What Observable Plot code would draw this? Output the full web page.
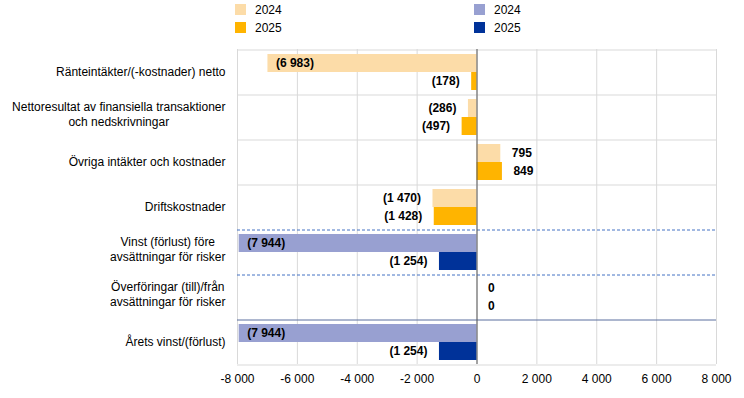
<!DOCTYPE html>
<html><head><meta charset="utf-8">
<script src="https://cdn.jsdelivr.net/npm/d3@7"></script>
<script src="https://cdn.jsdelivr.net/npm/@observablehq/plot@0.6"></script>
<style>
body{margin:0;background:#fff;font-family:"Liberation Sans",Arial,sans-serif;}
#wrap{position:relative;width:744px;height:398px;overflow:hidden;}
#legend{position:relative;height:40px;}
.lt{position:absolute;font-size:12px;line-height:14px;color:#000;}
.sw{position:absolute;width:11px;height:11px;}
#chart svg{display:block;}
</style></head><body>
<div id="wrap"><div id="legend"></div><div id="chart"></div></div>
<script>
const categories = [
  "Ränteintäkter/(-kostnader) netto",
  "Nettoresultat av finansiella transaktioner\noch nedskrivningar",
  "Övriga intäkter och kostnader",
  "Driftskostnader",
  "Vinst (förlust) före\navsättningar för risker",
  "Överföringar (till)/från\navsättningar för risker",
  "Årets vinst/(förlust)"
];
const years = ["2024", "2025"];
const values2024 = [-6983, -286, 795, -1470, -7944, 0, -7944];
const values2025 = [-178, -497, 849, -1428, -1254, 0, -1254];
const resultCategories = [categories[4], categories[5], categories[6]];
const xTicks = [-8000, -6000, -4000, -2000, 0, 2000, 4000, 6000, 8000];
const grayTopCategories = [categories[0], categories[1], categories[2], categories[3]];
const dashedTopCategories = [categories[4], categories[5]];
const solidTopCategories = [categories[6]];
const bottomCategories = [categories[6]];

const opsColors = {"2024": "#fcdca8", "2025": "#ffb400"};
const resColors = {"2024": "#98a0d1", "2025": "#003299"};

const loc = d3.formatLocale({decimal: ",", thousands: " ", grouping: [3], currency: ["", ""], minus: "-"});
const fmt = loc.format(",d");

const rows = [];
categories.forEach((c, i) => {
  rows.push({cat: c, year: "2024", value: values2024[i]});
  rows.push({cat: c, year: "2025", value: values2025[i]});
});
const isRes = d => resultCategories.includes(d.cat);
const fillOf = d => (isRes(d) ? resColors : opsColors)[d.year];
const labelOf = d => d.value < 0 ? `(${fmt(-d.value)})` : fmt(d.value);
const inside = rows.filter(d => d.value < -6000);
const negOut = rows.filter(d => d.value < 0 && d.value >= -6000);
const posOut = rows.filter(d => d.value >= 0);

// legend
const legend = document.getElementById("legend");
const legendItems = [
  {left: 235, top: 4, color: opsColors["2024"], text: "2024"},
  {left: 235, top: 22, color: opsColors["2025"], text: "2025"},
  {left: 474, top: 4, color: resColors["2024"], text: "2024"},
  {left: 474, top: 22, color: resColors["2025"], text: "2025"}
];
legendItems.forEach(it => {
  const s = document.createElement("div");
  s.className = "sw"; s.style.left = it.left + "px"; s.style.top = it.top + "px"; s.style.background = it.color;
  legend.appendChild(s);
  const t = document.createElement("div");
  t.className = "lt"; t.style.left = (it.left + 20) + "px"; t.style.top = (it.top - 1) + "px"; t.textContent = it.text;
  legend.appendChild(t);
});

const sepDy = -13.5;
const plot = Plot.plot({
  width: 744, height: 358,
  marginTop: 9, marginBottom: 34, marginLeft: 237, marginRight: 28,
  style: {fontFamily: '"Liberation Sans", Arial, sans-serif', fontSize: "12px", color: "#000", background: "#fff"},
  x: {domain: [-8000, 8000], ticks: xTicks, tickFormat: d => fmt(d), label: null, tickSize: 0, tickPadding: 10},
  y: {domain: years, axis: null, paddingInner: 0, paddingOuter: 0.25},
  fy: {domain: categories, padding: 0, label: null, tickSize: 0, tickPadding: 12},
  marks: [
    Plot.gridX(xTicks, {stroke: "#d9d9d9", strokeOpacity: 1}),
    Plot.ruleY(grayTopCategories, {fy: d => d, y: () => "2024", dy: sepDy, stroke: "#d9d9d9"}),
    Plot.ruleY(bottomCategories, {fy: d => d, y: () => "2025", dy: -sepDy, stroke: "#d9d9d9"}),
    Plot.ruleY(dashedTopCategories, {fy: d => d, y: () => "2024", dy: sepDy, stroke: "#4472c4", strokeDasharray: "3,2"}),
    Plot.ruleY(solidTopCategories, {fy: d => d, y: () => "2024", dy: sepDy, stroke: "#5b6f9e"}),
    Plot.barX(rows, {fy: "cat", y: "year", x: "value", fill: fillOf}),
    Plot.ruleX([0], {stroke: "#595959"}),
    Plot.text(inside, {fy: "cat", y: "year", x: "value", text: labelOf, textAnchor: "start", dx: 8, fontWeight: "bold", fill: "#000"}),
    Plot.text(negOut, {fy: "cat", y: "year", x: "value", text: labelOf, textAnchor: "end", dx: -12, fontWeight: "bold", fill: "#000"}),
    Plot.text(posOut, {fy: "cat", y: "year", x: "value", text: labelOf, textAnchor: "start", dx: 11, fontWeight: "bold", fill: "#000"})
  ]
});
document.getElementById("chart").appendChild(plot);

// multi-line category labels: 1.25 line height, lines centred, block right-aligned
plot.querySelectorAll('g[aria-label="fy-axis tick label"] text').forEach(t => {
  const spans = t.querySelectorAll("tspan");
  if (spans.length > 1) {
    const lh = 1.25;
    const n = spans.length;
    spans.forEach((s, k) => {
      s.setAttribute("dy", k === 0 ? `${(-(n - 1) / 2 * lh + 0.32).toFixed(3)}em` : `${lh}em`);
    });
    let w = 0;
    spans.forEach(s => { w = Math.max(w, s.getComputedTextLength()); });
    t.setAttribute("text-anchor", "middle");
    const tr = t.getAttribute("transform") || "";
    t.setAttribute("transform", tr + ` translate(${-w / 2},0)`);
  }
});
</script>
</body></html>
